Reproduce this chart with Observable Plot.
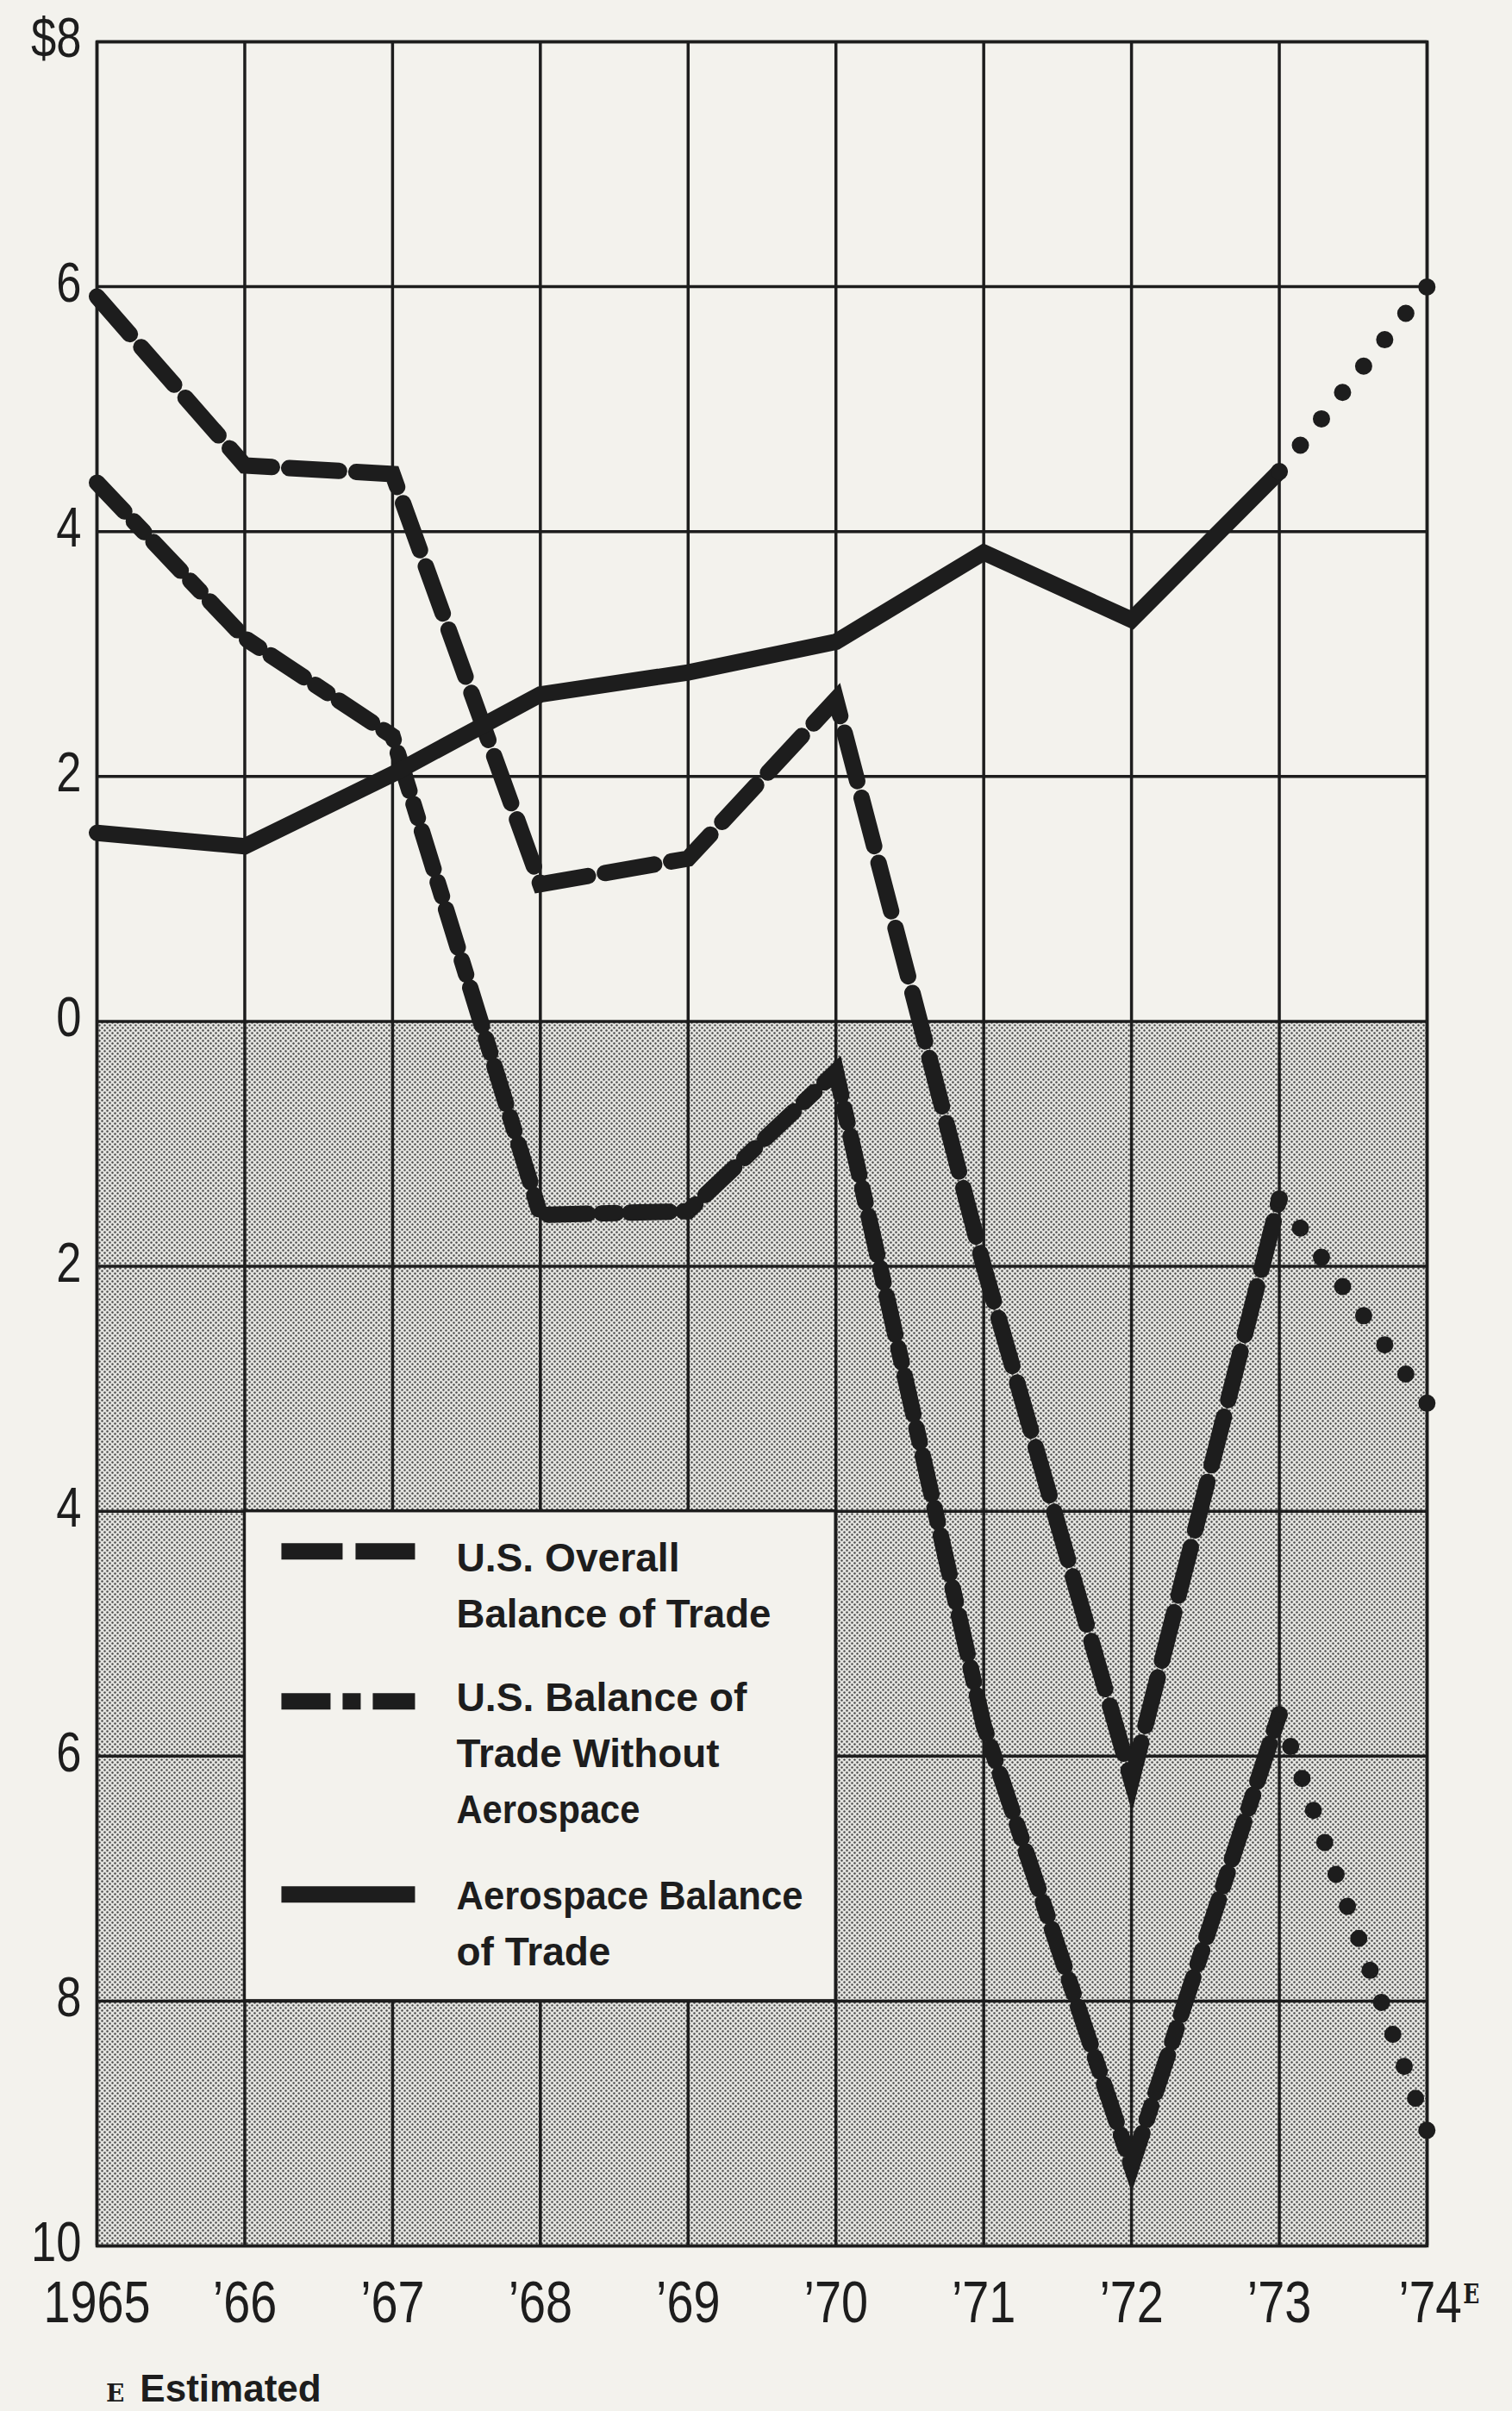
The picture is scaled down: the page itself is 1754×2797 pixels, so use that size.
<!DOCTYPE html>
<html>
<head>
<meta charset="utf-8">
<script src="https://cdn.jsdelivr.net/npm/d3@7"></script>
<script src="https://cdn.jsdelivr.net/npm/@observablehq/plot@0.6"></script>
<style>
  html, body { margin: 0; padding: 0; background: #f3f2ed; }
  #wrap { position: relative; width: 1754px; height: 2797px; overflow: hidden; }
  #caption { position: absolute; left: 123px; top: 2749px; font-size: 44px; line-height: 44px;
             color: #1d1d1d; white-space: nowrap; }
  #caption .e { font-family: "DejaVu Serif", "Liberation Serif", serif; font-weight: bold; font-size: 28px; margin-right: 18px; }
  #caption .t { font-weight: bold; }
</style>
</head>
<body>
<div id="wrap"></div>
<script>
// ---------------- data ----------------
const years = [1965, 1966, 1967, 1968, 1969, 1970, 1971, 1972, 1973, 1974];
const overallBalance = [5.92, 4.54, 4.47, 1.12, 1.33, 2.63, -2.0, -6.2, -1.45, -3.12];
const withoutAerospace = [4.40, 3.13, 2.33, -1.58, -1.55, -0.41, -5.75, -9.35, -5.66, -9.06];
const aerospaceBalance = [1.54, 1.43, 2.02, 2.67, 2.85, 3.10, 3.83, 3.28, 4.49, 6.00];
const yTicks = [-10, -8, -6, -4, -2, 0, 2, 4, 6, 8];
const xTickLabels = ["1965", "’66", "’67", "’68", "’69", "’70", "’71", "’72", "’73", "’74"];
const lastActualYear = 1973;   // 1974 is estimated
const estimatedMark = "E";
const captionText = "Estimated";
const legendLabels = [
  ["U.S. Overall", "Balance of Trade"],
  ["U.S. Balance of", "Trade Without", "Aerospace"],
  ["Aerospace Balance", "of Trade"]
];

// ---------------- styles ----------------
const ink = "#1d1d1d";
const paper = "#f3f2ed";
const font = "'Liberation Sans Narrow','Arial Narrow','Liberation Sans',Arial,sans-serif";
const serif = "'DejaVu Serif','Liberation Serif',serif";
const W = 1754, H = 2740;
const dashes = ["58,20", "46,16,17,16", null];
const legendDashes = ["71,15", "57,14,21,14", null];
const legendWidths = [[259, 365], [337, 305, 213], [402, 179]];
const narrow = 0.82;
const lw = 19;

// ---------------- table ----------------
const seriesValues = [overallBalance, withoutAerospace, aerospaceBalance];
const table = seriesValues.map((vals, s) => years.map((year, i) => ({year, value: vals[i], s})));
const xDomain = [years[0], years[years.length - 1]];
const yDomain = [yTicks[0], yTicks[yTicks.length - 1]];

const lineMarks = [];
table.forEach((rows, s) => {
  const actual = rows.filter(d => d.year <= lastActualYear);
  const est = rows.filter(d => d.year >= lastActualYear);
  const opts = {x: "year", y: "value", stroke: ink, strokeWidth: lw, strokeLinejoin: "miter", strokeMiterlimit: 4};
  if (dashes[s]) opts.strokeDasharray = dashes[s];
  lineMarks.push(Plot.line(actual, opts));
  lineMarks.push(Plot.line(est, {x: "year", y: "value", stroke: ink, strokeWidth: lw + 1,
    strokeDasharray: "0,40", strokeLinecap: "round"}));
});

const plot = Plot.plot({
  width: W, height: H,
  marginLeft: 112, marginRight: 99, marginTop: 48, marginBottom: H - 2605,
  x: {domain: xDomain},
  y: {domain: yDomain},
  style: {background: "transparent", fontFamily: font, color: ink, overflow: "visible"},
  marks: [
    Plot.rect([{x1: xDomain[0], x2: xDomain[1], y1: yDomain[0], y2: 0}],
      {x1: "x1", x2: "x2", y1: "y1", y2: "y2", fill: "url(#halftone)"}),
    Plot.gridX(years, {stroke: ink, strokeOpacity: 1, strokeWidth: 3.5}),
    Plot.gridY(yTicks, {stroke: ink, strokeOpacity: 1, strokeWidth: 3.5}),
    Plot.frame({stroke: ink, strokeWidth: 3.5}),
    Plot.axisY(yTicks, {tickSize: 0, tickPadding: 18, fontSize: 64, label: null, dy: -3,
      tickFormat: d => d === yDomain[1] ? "$" + d : String(Math.abs(d))}),
    Plot.axisX(years, {tickSize: 0, tickPadding: 40, fontSize: 68, label: null,
      tickFormat: d => xTickLabels[years.indexOf(d)]}),
    ...lineMarks
  ]
});

// halftone pattern for the deficit area
const svg = d3.select(plot);
const pat = svg.insert("defs", ":first-child").append("pattern")
  .attr("id", "halftone").attr("patternUnits", "userSpaceOnUse")
  .attr("width", 6).attr("height", 6);
pat.append("rect").attr("width", 6).attr("height", 6).attr("fill", "#e4e4e0");
pat.append("circle").attr("cx", 1.5).attr("cy", 1.5).attr("r", 1.2).attr("fill", "#4a4a4a");
pat.append("circle").attr("cx", 4.5).attr("cy", 4.5).attr("r", 1.2).attr("fill", "#4a4a4a");

// legend box anchored to the grid cells 1966–1970, deficit 4–8
const sx = plot.scale("x"), sy = plot.scale("y");
const bx = sx.apply(1966), bx2 = sx.apply(1970), by = sy.apply(-4), by2 = sy.apply(-8);
const g = svg.append("g").attr("transform", `translate(${bx},${by})`);
g.append("rect").attr("width", bx2 - bx).attr("height", by2 - by)
  .attr("fill", paper).attr("stroke", ink).attr("stroke-width", 3.5);
const keyY = [47, 221, 445], textY = [70, 232, 462], lineH = 65;
legendLabels.forEach((lines, i) => {
  const l = g.append("line").attr("x1", 43).attr("x2", 198).attr("y1", keyY[i]).attr("y2", keyY[i])
    .attr("stroke", ink).attr("stroke-width", lw);
  if (legendDashes[i]) l.attr("stroke-dasharray", legendDashes[i]);
  lines.forEach((t, j) => {
    g.append("text").attr("x", 246).attr("y", textY[i] + j * lineH)
      .attr("text-anchor", "start")
      .attr("font-size", 46).attr("font-weight", "bold")
      .attr("textLength", legendWidths[i][j]).attr("lengthAdjust", "spacingAndGlyphs")
      .attr("fill", ink).attr("font-family", font).text(t);
  });
});

const wrap = document.getElementById("wrap");
wrap.appendChild(plot);

// superscript "E" on the estimated year's tick label (same text element)
const xLabels = svg.selectAll('g[aria-label="x-axis tick label"] text').nodes();
const estLabel = xLabels[xLabels.length - 1];
if (estLabel) {
  d3.select(estLabel).append("tspan")
    .attr("font-family", serif).attr("font-weight", "bold").attr("font-size", 31)
    .attr("dx", 2).attr("dy", -22).text(estimatedMark);
  estLabel.setAttribute("dx", 14);
}

// condensed look for tick labels
svg.selectAll('g[aria-label$="tick label"] text').each(function () {
  const L = this.getComputedTextLength();
  this.setAttribute("textLength", (L * narrow).toFixed(1));
  this.setAttribute("lengthAdjust", "spacingAndGlyphs");
});

// even spacing of the estimated dots so they land on both end points
svg.selectAll('[stroke-dasharray="0,40"]').each(function () {
  const paths = this.tagName === "path" ? [this] : Array.from(this.querySelectorAll("path"));
  paths.forEach(p => {
    const L = p.getTotalLength();
    const n = Math.max(1, Math.round(L / 40));
    p.setAttribute("stroke-dasharray", `0,${(Math.floor((L / n) * 1000) / 1000 - 0.05).toFixed(3)}`);
  });
});

const cap = document.createElement("div");
cap.id = "caption";
cap.style.fontFamily = font;
cap.innerHTML = `<span class="e">${estimatedMark}</span><span class="t">${captionText}</span>`;
wrap.appendChild(cap);
</script>
</body>
</html>
